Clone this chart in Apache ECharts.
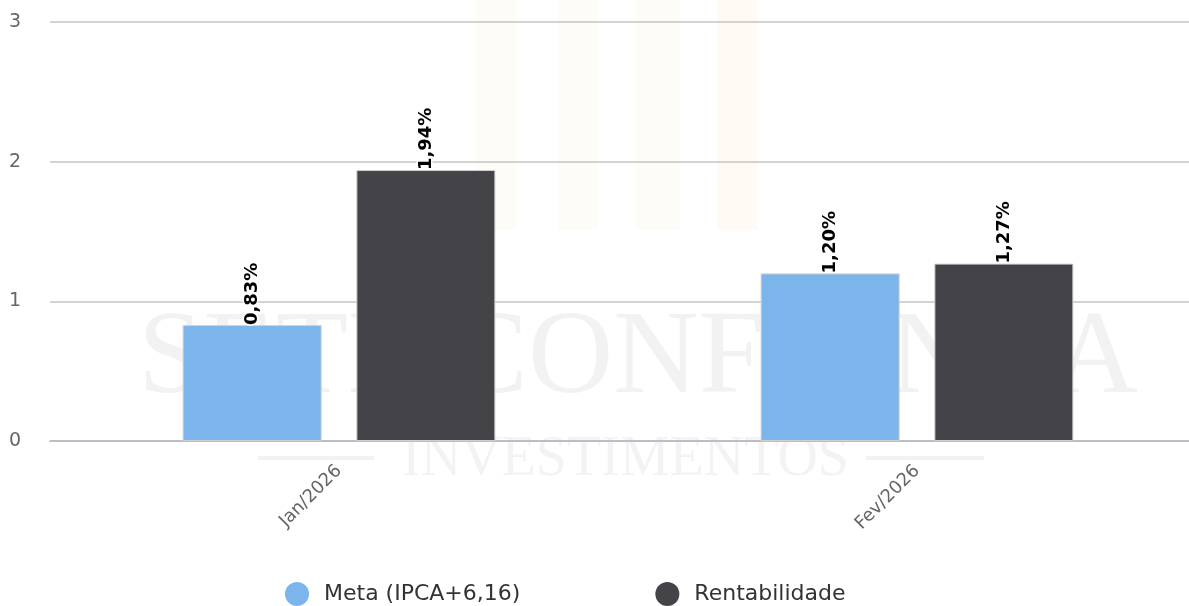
<!DOCTYPE html>
<html>
<head>
<meta charset="utf-8">
<script src="https://cdn.jsdelivr.net/npm/echarts@6/dist/echarts.min.js"></script>
<style>
html,body{margin:0;padding:0;background:#fff;overflow:hidden;width:1189px;height:606px;}
#chart{width:1206px;height:606px;}
</style>
</head>
<body>
<div id="chart"></div>
<script>
var categories = ['Jan/2026', 'Fev/2026'];
var metaValues = [0.83, 1.20];
var rentabilidadeValues = [1.94, 1.27];
var seriesNames = ['Meta (IPCA+6,16)', 'Rentabilidade'];
var yTicks = [0, 1, 2, 3];

var chart = echarts.init(document.getElementById('chart'));
var fontFam = '"DejaVu Sans", Verdana, sans-serif';

function fmt(p) {
  return p.value.toFixed(2).replace('.', ',') + '%';
}

var labelStyle = {
  show: true,
  position: 'top',
  rotate: 90,
  align: 'left',
  verticalAlign: 'middle',
  distance: 0,
  formatter: fmt,
  color: '#000',
  fontWeight: 'bold',
  fontSize: 18,
  fontFamily: fontFam,
  textBorderColor: '#fff',
  textBorderWidth: 3
};

var option = {
  animation: false,
  backgroundColor: '#fff',
  graphic: [
    { type: 'rect', silent: true, z: -10, shape: { x: 476, y: 0, width: 40, height: 230 }, style: { fill: '#fefcf7' } },
    { type: 'rect', silent: true, z: -10, shape: { x: 557, y: 0, width: 40, height: 230 }, style: { fill: '#fefcf7' } },
    { type: 'rect', silent: true, z: -10, shape: { x: 636, y: 0, width: 44, height: 230 }, style: { fill: '#fefcf7' } },
    { type: 'rect', silent: true, z: -10, shape: { x: 717, y: 0, width: 40, height: 230 }, style: { fill: '#fefbf5' } },
    { type: 'text', silent: true, z: -10, left: 138, top: 302,
      style: { text: 'SETE CONFIANÇA', font: '118px "Liberation Serif", "DejaVu Serif", serif', fill: '#f2f2f2' } },
    { type: 'text', silent: true, z: -10, left: 402, top: 432,
      style: { text: 'INVESTIMENTOS', font: '56px "Liberation Serif", "DejaVu Serif", serif', fill: '#f3f3f3' } },
    { type: 'rect', silent: true, z: -10, shape: { x: 258, y: 456, width: 116, height: 4 }, style: { fill: '#f2f2f2' } },
    { type: 'rect', silent: true, z: -10, shape: { x: 866, y: 456, width: 118, height: 4 }, style: { fill: '#f2f2f2' } }
  ],
  color: ['#7cb5ec', '#434348'],
  grid: { left: 50, top: 22, bottom: 165, right: 0, containLabel: false },
  legend: {
    left: 280,
    top: 577,
    icon: 'circle',
    itemWidth: 24,
    itemHeight: 24,
    itemGap: 135,
    itemStyle: { borderWidth: 0 },
    textStyle: { color: '#333', fontSize: 22, fontFamily: fontFam, padding: [0, 0, 0, 10] },
    data: seriesNames
  },
  xAxis: {
    type: 'category',
    data: categories,
    axisLine: { lineStyle: { color: '#b4b8c4', width: 1.5 } },
    axisTick: { show: false },
    axisLabel: { rotate: 45, color: '#666', fontSize: 18, fontFamily: fontFam, margin: 27 }
  },
  yAxis: {
    type: 'value',
    min: yTicks[0],
    max: yTicks[yTicks.length - 1],
    interval: 1,
    axisLine: { show: false },
    axisTick: { show: false },
    splitLine: { lineStyle: { color: '#c4c4c4', width: 1.5 } },
    axisLabel: { color: '#666', fontSize: 19, fontFamily: fontFam, margin: 29, padding: [6, 0, 0, 0] }
  },
  series: [
    {
      name: seriesNames[0],
      type: 'bar',
      data: metaValues,
      barWidth: 139,
      barGap: '25%',
      itemStyle: { borderColor: '#d0d0d0', borderWidth: 1 },
      label: labelStyle
    },
    {
      name: seriesNames[1],
      type: 'bar',
      data: rentabilidadeValues,
      barWidth: 139,
      barGap: '25%',
      itemStyle: { borderColor: '#d0d0d0', borderWidth: 1 },
      label: labelStyle
    }
  ]
};
chart.setOption(option);
</script>
</body>
</html>
